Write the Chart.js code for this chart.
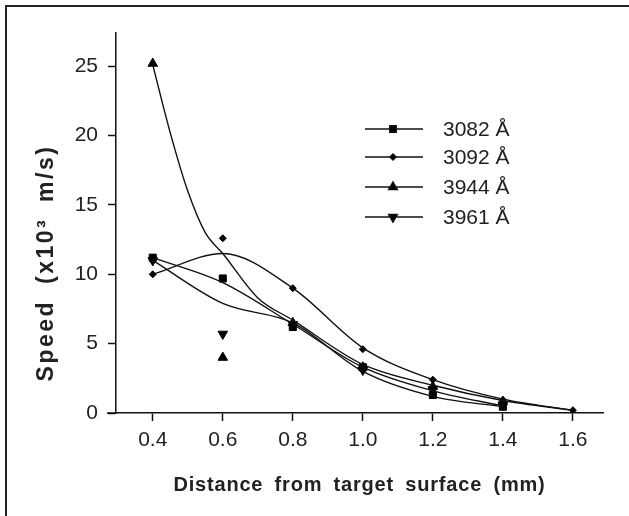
<!DOCTYPE html>
<html>
<head>
<meta charset="utf-8">
<script src="https://cdn.jsdelivr.net/npm/chart.js@4"></script>
<style>
body{margin:0;background:#fff}
#frame{position:absolute;left:5px;top:5px;width:630px;height:520px;border-top:2px solid #222;border-left:2px solid #222}
#wrap{position:absolute;left:0;top:0;width:629px;height:516px}
</style>
</head>
<body>
<div id="frame"></div>
<div id="wrap"><canvas id="c" width="629" height="516"></canvas></div>
<script>

// distance (mm)
let distance=[0.4,0.6,0.8,1.0,1.2,1.4,1.6]
let xTicks=[0.4,0.6,0.8,1.0,1.2,1.4,1.6]
let yTicks=[0,5,10,15,20,25]

let labels=["3082 Å","3092 Å","3944 Å","3961 Å"]
let xTitle="Distance from target surface (mm)"
let yTitle="Speed (x10³ m/s)"

// measured points
let pts3082=[11.2,9.7,6.2,3.3,1.3,0.45,null]
let pts3092=[10.0,12.6,9.0,4.6,2.4,0.95,0.2]
let pts3944=[25.2,4.0,6.5,3.3,1.9,0.8,null]
let pts3961=[11.0,5.7,6.4,3.1,1.7,0.6,null]

// fitted curves
let fit3082=[11.2,9.4,6.4,3.3,1.6,0.5,null]
let fit3092=[10.0,11.5,9.0,4.7,2.4,1.0,0.2]
let fit3961=[11.0,7.9,6.5,3.0,1.2,0.45,null]
let fitX3944=[0.4,0.45,0.5,0.55,0.6,0.7,0.8,1.0,1.2,1.4,1.6]
let fit3944=[25.1,20.2,16.0,13.0,11.5,8.3,6.7,3.5,2.0,0.9,0.2]

let styles=["rect","rectRot","triangle","triangle"]
let radii=[5,3.5,5.5,5.5]
let rots=[0,0,0,180]

function xy(xs,ys){
return xs.map((x,i)=>({x:x,y:ys[i]})).filter(p=>p.y!==null)
}

let pointSets=[pts3082,pts3092,pts3944,pts3961]
let fitSets=[xy(distance,fit3082),xy(distance,fit3092),xy(fitX3944,fit3944),xy(distance,fit3961)]

let datasets=[]

fitSets.forEach((d,i)=>{
datasets.push({
label:"fit "+labels[i],
data:d,
showLine:true,
borderColor:"#111",
borderWidth:1.4,
pointRadius:0,
cubicInterpolationMode:"monotone",
fill:false
})
})

pointSets.forEach((d,i)=>{
datasets.push({
label:labels[i],
data:xy(distance,d),
showLine:false,
pointStyle:styles[i],
pointRadius:radii[i],
pointRotation:rots[i],
backgroundColor:"#000",
borderColor:"#000",
borderWidth:1
})
})

const FONT="'Liberation Sans', Arial, sans-serif"

/* legend and axis titles */
const extras={
id:"extras",
afterDraw(chart){
const ctx=chart.ctx
const a=chart.chartArea
ctx.save()

// small stub of the x axis left of the y axis
ctx.strokeStyle="#111"
ctx.lineWidth=1.5
ctx.beginPath()
ctx.moveTo(107,a.bottom)
ctx.lineTo(a.left,a.bottom)
ctx.stroke()

const rows=[129,157,187,217]
labels.forEach((t,i)=>{
const y=rows[i]
ctx.strokeStyle="#111"
ctx.lineWidth=1.5
ctx.beginPath()
ctx.moveTo(365,y)
ctx.lineTo(423,y)
ctx.stroke()
ctx.fillStyle="#000"
Chart.helpers.drawPoint(ctx,{pointStyle:styles[i],radius:radii[i]-0.5,rotation:rots[i],borderWidth:1},393,y)
ctx.fillStyle="#222"
ctx.font="21px "+FONT
ctx.textBaseline="middle"
ctx.textAlign="left"
ctx.fillText(t,443,y+1)
})

ctx.fillStyle="#222"
ctx.textAlign="center"
ctx.textBaseline="middle"

ctx.font="bold 20px "+FONT
ctx.letterSpacing="0.8px"
ctx.wordSpacing="5px"
ctx.fillText(xTitle,(a.left+a.right)/2,485)

ctx.translate(47,263)
ctx.rotate(-Math.PI/2)
ctx.font="bold 23px "+FONT
ctx.letterSpacing="2.5px"
ctx.wordSpacing="7px"
ctx.fillText(yTitle,0,0)

ctx.restore()
}
}

Chart.defaults.font.family=FONT
Chart.defaults.color="#222"

new Chart(document.getElementById("c"),{
type:"scatter",
data:{datasets:datasets},
options:{
responsive:false,
animation:false,
layout:{padding:{left:0,top:33,right:26,bottom:0}},
plugins:{legend:{display:false},tooltip:{enabled:false}},
scales:{
x:{
type:"linear",
min:0.295,
max:1.686,
afterBuildTicks:s=>{s.ticks=xTicks.map(v=>({value:v}))},
afterFit:s=>{s.height=103},
border:{color:"#111",width:1.5},
grid:{drawOnChartArea:false,drawTicks:true,tickLength:8,tickColor:"#111",tickWidth:1.5},
ticks:{padding:7,font:{size:21},callback:v=>v.toFixed(1)}
},
y:{
min:0,
max:27.4,
afterBuildTicks:s=>{s.ticks=yTicks.map(v=>({value:v}))},
afterFit:s=>{s.width=116},
border:{color:"#111",width:1.5},
grid:{drawOnChartArea:false,drawTicks:true,tickLength:8,tickColor:"#111",tickWidth:1.5},
ticks:{padding:10,font:{size:21}}
}
}
},
plugins:[extras]
})

</script>
</body>
</html>
